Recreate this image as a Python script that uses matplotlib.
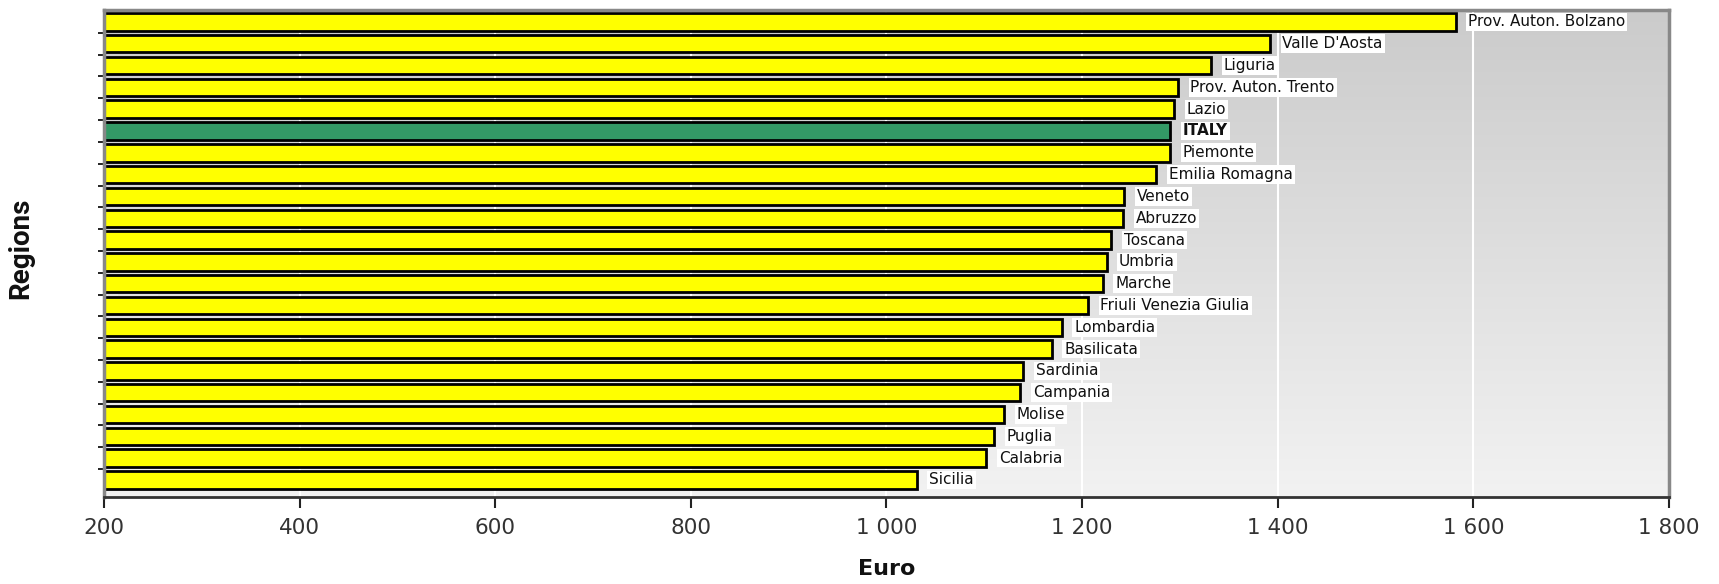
import numpy as np
import matplotlib
matplotlib.use("Agg")
import matplotlib.pyplot as plt
from matplotlib.ticker import FuncFormatter, FixedLocator

regions = ["Prov. Auton. Bolzano", "Valle D'Aosta", "Liguria", "Prov. Auton. Trento",
           "Lazio", "ITALY", "Piemonte", "Emilia Romagna", "Veneto", "Abruzzo",
           "Toscana", "Umbria", "Marche", "Friuli Venezia Giulia", "Lombardia",
           "Basilicata", "Sardinia", "Campania", "Molise", "Puglia", "Calabria", "Sicilia"]
values = [1582, 1392, 1332, 1298, 1294, 1290, 1290, 1276, 1243, 1242,
          1230, 1225, 1221, 1206, 1179, 1169, 1140, 1137, 1120, 1110, 1102, 1031]
xticks = [200, 400, 600, 800, 1000, 1200, 1400, 1600, 1800]

fig = plt.figure(figsize=(17.19, 5.84), dpi=100)
ax = fig.add_axes([0.0605, 0.149, 0.9104, 0.834])

n = len(regions)
ypos = np.arange(n)[::-1]
x0 = 200

# gradient background
grad = np.linspace(0, 1, 256).reshape(-1, 1)
cmap = matplotlib.colors.LinearSegmentedColormap.from_list("g", ["#cbcbcb", "#f2f2f2"])
ax.imshow(grad, aspect="auto", cmap=cmap, extent=[200, 1800, -0.78, 21.55],
          origin="upper", zorder=0)

for gx in xticks[1:-1]:
    ax.axvline(gx, color="white", lw=1.5, zorder=1)

colors = ["#339966" if r == "ITALY" else "#ffff00" for r in regions]
widths = [v - x0 for v in values]
ax.barh(ypos, widths, left=x0, height=0.8, color=colors, edgecolor="black",
        linewidth=2, zorder=2)

for y, v, r in zip(ypos, values, regions):
    ax.annotate(r, xy=(v, y), xytext=(9, 0), textcoords="offset points",
                va="center", ha="left", fontsize=11,
                fontweight="bold" if r == "ITALY" else "normal",
                color="#111111",
                bbox=dict(boxstyle="square,pad=0.12", fc="white", ec="none"),
                zorder=3)

ax.set_xlim(200, 1800)
ax.set_ylim(-0.78, 21.55)
ax.xaxis.set_major_locator(FixedLocator(xticks))
ax.xaxis.set_major_formatter(FuncFormatter(lambda v, p: f"{int(v):,}".replace(",", " ")))
ax.tick_params(axis="x", length=8, width=1.5, labelsize=15.5, pad=7, colors="#222222",
               labelcolor="#333333")
ax.set_yticks(np.arange(n - 1) + 0.5)
ax.set_yticklabels([])
ax.tick_params(axis="y", length=4, width=1.2, color="black")

for s in ["left", "right", "top"]:
    ax.spines[s].set_color("#888888")
    ax.spines[s].set_linewidth(2.5)
ax.spines["bottom"].set_color("#333333")
ax.spines["bottom"].set_linewidth(2)

ax.set_xlabel("Euro", fontsize=16, fontweight="bold", labelpad=15, color="#111111")
fig.text(0.012, 0.575, "Regions", rotation=90, ha="center", va="center",
         fontsize=20, fontweight="bold", color="#111111",
         family=["Roboto", "DejaVu Sans"])

fig.savefig("out.png", dpi=100)
